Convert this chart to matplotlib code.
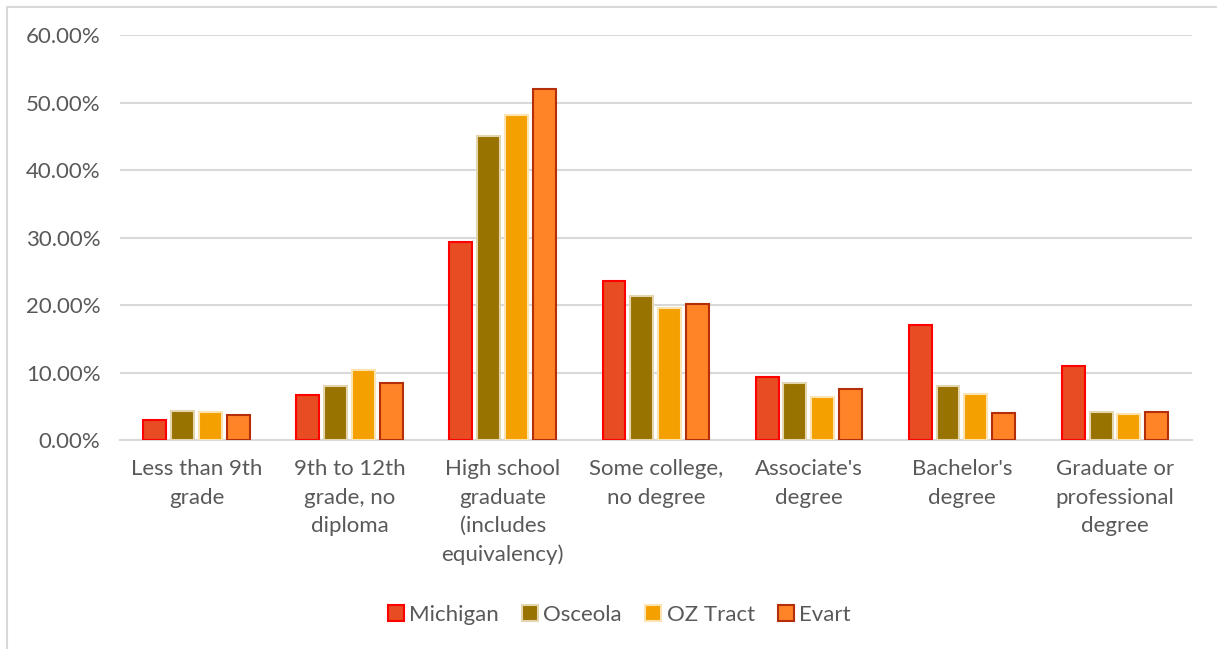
import numpy as np
import matplotlib.pyplot as plt
from matplotlib.patches import Rectangle
from matplotlib.ticker import FuncFormatter

categories = [
    "Less than 9th\ngrade",
    "9th to 12th\ngrade, no\ndiploma",
    "High school\ngraduate\n(includes\nequivalency)",
    "Some college,\nno degree",
    "Associate's\ndegree",
    "Bachelor's\ndegree",
    "Graduate or\nprofessional\ndegree",
]
series = ["Michigan", "Osceola", "OZ Tract", "Evart"]
michigan = [3.0, 6.7, 29.3, 23.6, 9.3, 17.1, 11.0]
osceola = [4.3, 8.0, 45.0, 21.3, 8.5, 8.0, 4.2]
oz_tract = [4.2, 10.4, 48.1, 19.6, 6.4, 6.8, 3.9]
evart = [3.7, 8.4, 52.0, 20.1, 7.6, 4.0, 4.1]

fills = ["#E84C22", "#997300", "#F4A000", "#FF8427"]
edges = ["#FF0000", "#E3D5AE", "#FCE3B0", "#B52E0A"]
text_col = "#595959"

plt.rcParams["font.family"] = ["Lato", "DejaVu Sans"]

fig = plt.figure(figsize=(12.17, 6.49), dpi=100)
ax = fig.add_axes([0.0986, 0.322, 0.8805, 0.624])

data = [michigan, osceola, oz_tract, evart]
x = np.arange(len(categories))
pitch = 0.182
width = 0.15
for i, vals in enumerate(data):
    off = (i - 1.5) * pitch
    ax.bar(x + off, vals, width, color=fills[i], edgecolor=edges[i],
           linewidth=1.5, label=series[i], zorder=3)

ax.set_xlim(-0.5, len(categories) - 0.5)
ax.set_ylim(0, 60)
ax.set_yticks(np.arange(0, 61, 10))
ax.yaxis.set_major_formatter(FuncFormatter(lambda v, p: f"{v:.2f}%"))
ax.grid(axis="y", color="#D9D9D9", linewidth=1.5, zorder=0)
ax.set_xticks(x)
ax.set_xticklabels(categories, fontsize=16, color=text_col, linespacing=1.52)
ax.tick_params(axis="y", labelsize=16, labelcolor=text_col, length=0, pad=14)
ax.tick_params(axis="x", length=0, pad=14)
for s in ["top", "right", "left"]:
    ax.spines[s].set_visible(False)
ax.spines["bottom"].set_color("#D9D9D9")
ax.spines["bottom"].set_linewidth(1.5)

leg = fig.legend(loc="center", bbox_to_anchor=(0.509, 0.053), ncol=4, frameon=False,
                 fontsize=16, handlelength=0.7, handleheight=0.7,
                 handletextpad=0.25, columnspacing=1.05)
for t in leg.get_texts():
    t.set_color(text_col)

fig.patches.append(Rectangle((7 / 1217, -0.1), 1.2, 1 - 7 / 649 + 0.1,
                             transform=fig.transFigure, fill=False,
                             edgecolor="#D9D9D9", linewidth=1.5))

fig.savefig("out.png", dpi=100)
